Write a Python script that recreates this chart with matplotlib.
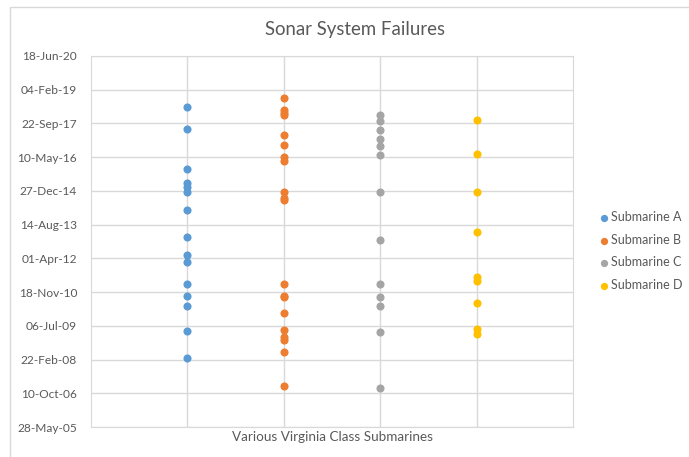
import numpy as np
import matplotlib
matplotlib.use("Agg")
import matplotlib.pyplot as plt
import matplotlib.dates as mdates
from matplotlib.patches import Rectangle

plt.rcParams['font.family'] = ['Lato', 'DejaVu Sans']

names = ["Submarine A", "Submarine B", "Submarine C", "Submarine D"]
colors = ["#5B9BD5", "#ED7D31", "#A5A5A5", "#FFC000"]

sub_a = ["2018-05-30", "2017-06-29", "2015-11-17", "2015-04-21", "2015-03-02",
         "2014-12-17", "2014-03-12", "2013-02-19", "2012-05-16", "2012-02-10",
         "2011-03-18", "2010-09-24", "2010-04-27", "2009-04-17", "2008-03-18"]
sub_b = ["2018-10-01", "2018-04-05", "2018-02-24", "2018-01-25", "2017-04-05",
         "2016-11-11", "2016-05-10", "2016-03-21", "2014-12-17", "2014-09-13",
         "2014-08-09", "2011-03-13", "2010-09-24", "2010-08-30", "2010-01-12",
         "2009-05-07", "2009-01-17", "2008-12-08", "2008-06-11", "2007-01-28"]
sub_c = ["2018-01-25", "2017-11-01", "2017-06-14", "2017-01-30", "2016-10-22",
         "2016-06-09", "2014-12-12", "2012-12-27", "2011-03-18", "2010-08-30",
         "2010-05-02", "2009-04-12", "2006-12-24"]
sub_d = ["2017-11-06", "2016-06-19", "2014-12-12", "2013-04-21", "2011-07-06",
         "2011-05-07", "2010-06-16", "2009-05-27", "2009-03-03"]

series = [sub_a, sub_b, sub_c, sub_d]

fig = plt.figure(figsize=(6.89, 4.57), dpi=100)
# outer chart border
fig.patches.append(Rectangle((10/689, -0.1), 1.0, 1 - 7/457 + 0.1,
                             transform=fig.transFigure, fill=False,
                             edgecolor="#d9d9d9", linewidth=1))

ax = fig.add_axes([91/689, 1 - 427/457, (573 - 91)/689, (427 - 56)/457])

for i, dates in enumerate(series):
    y = mdates.datestr2num(dates)
    x = np.full(len(y), i + 1)
    ax.scatter(x, y, s=34, color=colors[i], label=names[i], zorder=3,
               linewidths=0)

start = mdates.datestr2num("2005-05-28")
end = mdates.datestr2num("2020-06-18")
ax.set_ylim(start, end)
ax.set_yticks(np.arange(start, end + 1, 500))
ax.yaxis.set_major_formatter(mdates.DateFormatter("%d-%b-%y"))

ax.set_xlim(0, 5)
ax.set_xticks([1, 2, 3, 4])
ax.set_xticklabels([])
ax.grid(True, color="#d9d9d9", linewidth=1)
ax.set_axisbelow(True)
ax.tick_params(length=0, labelsize=8.6, labelcolor="#595959", pad=10)
for s in ax.spines.values():
    s.set_color("#d9d9d9")

ax.set_xlabel("Various Virginia Class Submarines", fontsize=9.7,
              color="#595959", labelpad=-7)
fig.text(355/689, 1 - 29/457, "Sonar System Failures", fontsize=13.4,
         color="#595959", ha="center", va="center")

ax.legend(loc="center left", bbox_to_anchor=(1.029, 0.474), frameon=False,
          fontsize=9, labelcolor="#595959", handletextpad=0.0,
          handlelength=1.0, labelspacing=0.84, markerscale=0.9)

fig.savefig("out.png", dpi=100)
